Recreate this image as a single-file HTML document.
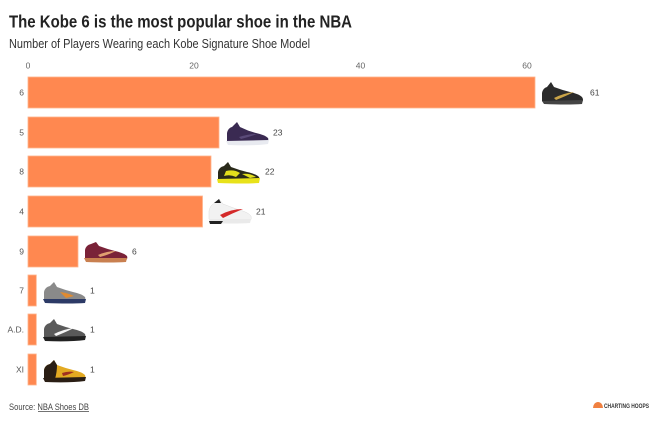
<!DOCTYPE html>
<html><head><meta charset="utf-8"><style>
html,body{margin:0;padding:0;background:#fff;}
svg{display:block;}
text{font-family:"Liberation Sans",Arial,sans-serif;}
</style></head><body>
<svg width="660" height="425" viewBox="0 0 660 425" xmlns="http://www.w3.org/2000/svg">
<defs>
<g id="shoe">
</g>
</defs>
<rect width="660" height="425" fill="#fff"/>
<text x="9" y="27.5" font-size="17.5" font-weight="bold" fill="#222" textLength="343" lengthAdjust="spacingAndGlyphs">The Kobe 6 is the most popular shoe in the NBA</text>
<text x="9" y="48" font-size="12.5" fill="#333" textLength="301" lengthAdjust="spacingAndGlyphs">Number of Players Wearing each Kobe Signature Shoe Model</text>

<g font-size="8.5" fill="#666" text-anchor="middle">
<text x="28" y="68.5">0</text>
<text x="194" y="68.5">20</text>
<text x="360.5" y="68.5">40</text>
<text x="527" y="68.5">60</text>
</g>

<g fill="#FF8850" stroke="#ffb48c" stroke-width="0.8">
<rect x="28" y="77" width="507" height="31"/>
<rect x="28" y="117" width="191" height="31"/>
<rect x="28" y="156" width="183" height="31"/>
<rect x="28" y="196" width="174.5" height="31"/>
<rect x="28" y="236" width="50" height="31"/>
<rect x="28" y="275" width="8.3" height="31"/>
<rect x="28" y="314" width="8.3" height="31"/>
<rect x="28" y="354" width="8.3" height="31"/>
</g>

<g font-size="8.5" fill="#555" text-anchor="end">
<text x="24" y="95.5">6</text>
<text x="24" y="135.5">5</text>
<text x="24" y="174.5">8</text>
<text x="24" y="214.5">4</text>
<text x="24" y="254.5">9</text>
<text x="24" y="293.5">7</text>
<text x="24" y="332.5">A.D.</text>
<text x="24" y="372.5">XI</text>
</g>

<g font-size="8.5" fill="#444">
<text x="590" y="95.5">61</text>
<text x="273" y="135.5">23</text>
<text x="265" y="174.5">22</text>
<text x="256" y="214.5">21</text>
<text x="132" y="254.5">6</text>
<text x="90" y="293.5">1</text>
<text x="90" y="332.5">1</text>
<text x="90" y="372.5">1</text>
</g>

<!-- shoes: generic shape in 44x24 box -->
<!-- 6 -->
<g transform="translate(540,81)">
<path d="M2,20 L2,12 Q3,7 7,6 L11,1 L14,6 Q22,9 30,11 Q39,13 42,16 Q44,19 42,21 L4,22 Z" fill="#2b2b2b"/>
<path d="M2,20 L43,19 L42,23 Q28,24 4,23 Z" fill="#444"/>
<path d="M14,17 Q24,12 34,11 Q26,15 16,19 Z" fill="#caa448"/>
</g>
<!-- 5 -->
<g transform="translate(225,122)">
<path d="M2,19 L2,11 Q3,6 7,5 L12,0 L15,5 Q23,9 31,11 Q40,13 43,16 Q44,18 42,20 L4,21 Z" fill="#3a2a52"/>
<path d="M1,19 L44,18 L43,22 Q28,24 3,23 Z" fill="#e8eaf0"/>
<path d="M14,15 Q24,12 32,12 Q24,15 16,17 Z" fill="#5a4a78"/>
</g>
<!-- 8 -->
<g transform="translate(216,161)">
<path d="M2,18 L2,11 Q3,6 8,5 L12,1 L15,6 Q23,9 31,11 Q40,13 43,16 Q44,18 42,20 L4,20 Z" fill="#2a2a1a"/>
<path d="M10,10 Q18,8 24,12 L20,16 Q14,13 8,15 Z" fill="#e3df1c"/>
<path d="M26,13 Q34,12 40,16 L34,17 Z" fill="#e3df1c"/>
<path d="M1,18 L44,17 L43,22 Q28,23 2,22 Z" fill="#e8e21a"/>
</g>
<!-- 4 -->
<g transform="translate(207,199)">
<path d="M2,20 L2,12 Q3,6 8,4 L12,0 L16,5 Q24,8 32,11 Q41,13 44,17 Q45,20 43,22 L4,22 Z" fill="#f2f2f2" stroke="#ddd" stroke-width="0.5"/>
<path d="M2,20 L44,20 L43,24 Q28,25 3,24 Z" fill="#eaeaea"/>
<path d="M2,22 L16,22 L14,25 L3,25 Z" fill="#222"/>
<path d="M13,16 Q24,10 36,10 Q26,14 16,19 Z" fill="#d42a2a"/>
<path d="M7,4 L12,0 L14,4 Z" fill="#222"/>
</g>
<!-- 9 -->
<g transform="translate(83,240)">
<path d="M2,18 L2,10 Q3,5 8,4 L13,2 L16,6 Q24,9 32,11 Q41,13 44,16 Q45,19 43,20 L4,20 Z" fill="#7a2238"/>
<path d="M1,18 L44,18 L43,22 Q28,23 3,22 Z" fill="#c98050"/>
<path d="M15,15 Q24,11 33,11 Q25,15 17,17 Z" fill="#e0a070"/>
</g>
<!-- 7 -->
<g transform="translate(42,282)">
<path d="M2,17 L2,10 Q3,5 8,4 L12,0 L15,5 Q23,8 31,10 Q40,12 43,15 Q44,17 42,19 L4,19 Z" fill="#8a8a8a"/>
<path d="M18,10 Q26,11 32,14 L24,16 Z" fill="#e08a30"/>
<path d="M1,17 L44,17 L43,21 Q28,22 3,21 Z" fill="#2c3a66"/>
</g>
<!-- A.D. -->
<g transform="translate(42,319)">
<path d="M2,18 L2,10 Q3,5 8,4 L12,0 L15,5 Q23,8 31,10 Q40,12 43,15 Q44,18 42,19 L4,19 Z" fill="#5a5a5a"/>
<path d="M12,15 Q22,10 32,9 Q24,13 14,17 Z" fill="#f4f4f4"/>
<path d="M1,18 L44,17 L43,21 Q28,23 3,22 Z" fill="#222"/>
</g>
<!-- XI -->
<g transform="translate(42,360)">
<path d="M2,18 L2,10 Q3,5 8,4 L12,0 L15,5 Q23,8 31,10 Q40,12 43,15 Q44,18 42,19 L4,19 Z" fill="#e3aa22"/>
<path d="M2,18 L2,10 Q3,5 8,4 L12,0 L15,5 Q15,12 13,19 L4,19 Z" fill="#2a1e14"/>
<path d="M1,18 L44,17 L43,21 Q28,23 3,22 Z" fill="#2a1e14"/>
<path d="M20,13 Q26,11 32,12 Q26,15 21,16 Z" fill="#a03020"/>
</g>

<text x="9" y="410" font-size="9.5" fill="#444" textLength="80" lengthAdjust="spacingAndGlyphs">Source: NBA Shoes DB</text>
<line x1="38" y1="411.5" x2="89" y2="411.5" stroke="#444" stroke-width="0.7"/>

<!-- logo -->
<path d="M593,408 A5,6 0 0 1 603,408 Z" fill="#f08040"/>
<text x="604" y="408" font-size="6.5" font-weight="bold" fill="#333" textLength="45" lengthAdjust="spacingAndGlyphs">CHARTING HOOPS</text>
</svg>
</body></html>
